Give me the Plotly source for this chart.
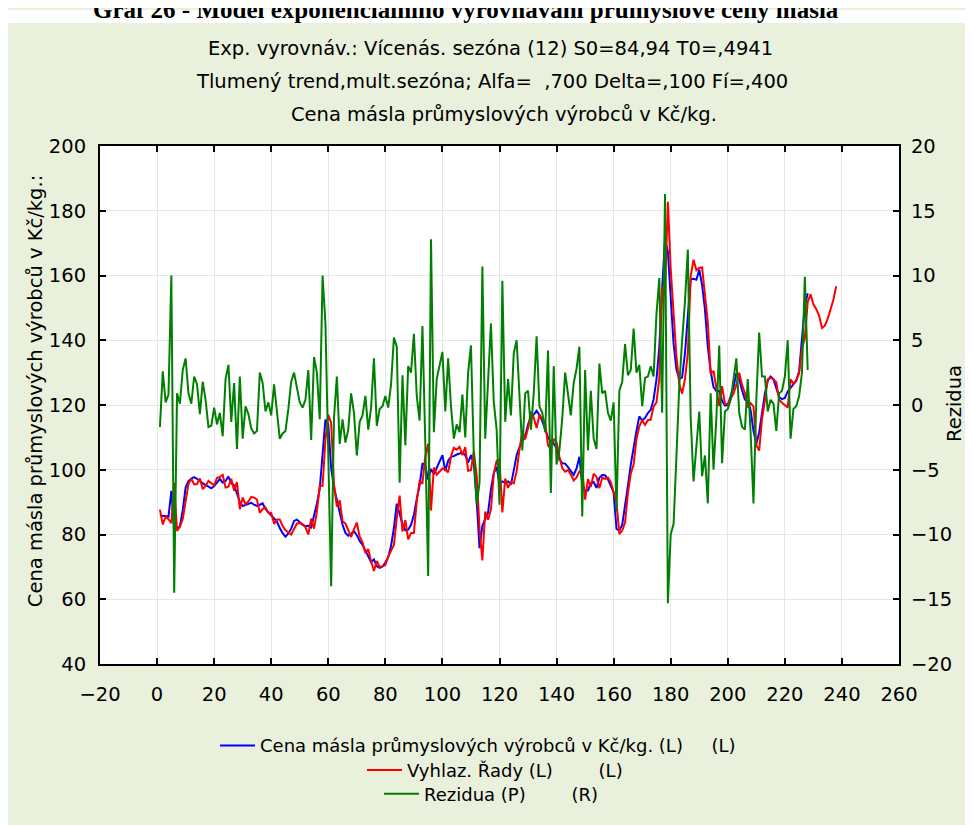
import plotly.graph_objects as go

# ---------------- data ----------------
actual = [86.0, 85.7, 85.7, 85.5, 93.5, 81.5, 82.0, 82.5, 87.5, 94.5,
          96.5, 97.3, 97.7, 97.2, 96.6, 95.8, 95.4, 94.8, 94.3, 95.0,
          96.0, 97.2, 96.0, 96.5, 97.9, 95.9, 95.2, 92.8, 90.0, 88.8,
          89.2, 89.5, 89.8, 89.2, 88.8, 89.2, 89.6, 87.8, 86.9, 85.9,
          84.9, 84.0, 82.0, 80.4, 79.3, 80.3, 81.8, 84.2, 84.6, 83.7,
          83.0, 82.6, 82.7, 82.2, 85.5, 89.5, 94.0, 105.0, 115.5, 114.0,
          100.5, 94.5, 90.8, 87.5, 83.0, 80.5, 79.6, 80.2, 81.0, 79.8,
          78.0, 76.8, 75.0, 73.6, 71.5, 72.3, 70.2, 69.7, 70.1, 71.3,
          73.0, 76.5, 82.0, 89.5, 86.0, 83.2, 81.3, 81.5, 83.0, 86.0,
          91.0, 95.2, 102.0, 101.2, 97.0, 100.2, 98.6, 100.5, 102.5, 104.5,
          99.6, 102.8, 104.0, 104.2, 104.7, 105.0, 105.3, 104.5, 102.2, 104.5,
          101.8, 90.5, 75.8, 82.7, 84.5, 86.8, 94.0, 99.0, 100.9, 95.4,
          96.4, 96.0, 96.4, 95.4, 99.8, 104.5, 107.0, 108.5, 110.3, 114.0,
          116.0, 117.0, 118.2, 116.9, 115.0, 112.5, 110.0, 108.6, 108.2, 106.5,
          103.2, 102.0, 101.9, 100.8, 99.5, 98.4, 100.4, 104.0, 95.5, 93.5,
          93.6, 95.8, 96.2, 94.4, 97.5, 98.4, 98.3, 97.0, 95.0, 93.0,
          81.7, 81.2, 83.0, 88.5, 95.0, 101.5, 107.5, 112.0, 116.5, 115.2,
          116.0, 117.5, 118.5, 121.7, 127.8, 137.9, 156.0, 171.0, 167.5, 152.0,
          139.0, 131.0, 128.0, 128.5, 136.0, 147.5, 158.8, 159.0, 158.7, 161.8,
          157.0, 149.5, 138.0, 130.5, 125.5, 124.3, 124.3, 121.3, 119.8, 120.0,
          122.5, 125.5, 129.8, 128.0, 124.5, 121.7, 121.2, 118.5, 112.0, 108.0,
          111.5, 118.0, 123.5, 127.5, 128.8, 128.0, 125.0, 122.5, 121.8, 122.2,
          124.2, 125.3, 126.3, 127.5, 130.5, 140.0, 150.5, 154.5]

smoothed = [87.7, 83.1, 85.5, 84.7, 83.5, 96.0, 81.1, 82.4, 84.8, 90.9,
            95.6, 97.2, 95.5, 95.6, 97.3, 94.0, 95.0, 96.5, 95.9, 95.2,
            97.5, 97.8, 98.4, 94.5, 94.8, 97.2, 93.5, 96.2, 87.8, 91.4,
            89.3, 90.2, 91.6, 91.4, 90.8, 86.7, 87.9, 88.3, 86.7, 86.7,
            83.3, 84.6, 84.6, 82.6, 81.3, 80.6, 80.0, 81.7, 83.4, 83.5,
            83.2, 82.2, 80.0, 84.9, 81.8, 87.0, 95.1, 95.0, 109.2, 117.0,
            114.5, 95.5, 88.6, 90.5, 84.1, 83.4, 81.5, 79.3, 81.6, 83.7,
            79.3, 77.6, 74.3, 75.5, 71.7, 68.7, 71.8, 70.0, 70.2, 70.6,
            73.2, 74.9, 76.8, 85.0, 92.0, 80.9, 84.4, 78.5, 80.5, 80.5,
            90.3, 96.4, 95.9, 104.2, 108.0, 87.4, 100.7, 98.5, 99.3, 100.4,
            100.1, 99.2, 104.1, 106.8, 106.2, 107.1, 104.5, 107.0, 99.7, 99.9,
            105.7, 98.2, 81.8, 72.0, 87.1, 84.6, 87.7, 98.8, 102.8, 103.1,
            86.8, 97.3, 94.4, 96.2, 95.8, 99.5, 106.3, 112.0, 109.4, 112.9,
            117.9, 116.1, 112.9, 117.0, 115.6, 114.6, 107.5, 106.5, 109.5, 108.5,
            104.0, 100.5, 99.4, 99.9, 98.5, 96.7, 97.6, 99.5, 100.0, 90.8,
            97.1, 94.7, 98.8, 97.8, 94.3, 97.5, 97.2, 97.6, 96.2, 92.8,
            89.9, 80.1, 81.2, 83.8, 92.7, 98.8, 101.6, 109.5, 113.4, 115.3,
            113.9, 115.3, 115.5, 119.5, 120.8, 128.1, 156.6, 154.7, 182.8, 162.0,
            148.2, 135.0, 126.5, 123.5, 128.0, 136.0, 159.8, 164.9, 161.6, 162.3,
            162.5, 153.4, 145.6, 129.6, 130.5, 125.3, 119.7, 125.8, 120.3, 120.3,
            122.1, 123.5, 126.2, 130.0, 126.2, 123.6, 119.2, 120.6, 119.6, 107.6,
            105.9, 115.8, 121.3, 128.0, 128.4, 127.9, 127.0, 121.6, 120.7, 120.0,
            119.2, 127.9, 126.6, 127.6, 129.8, 137.5, 140.6, 151.8, 154.2, 151.1,
            149.6, 147.6, 143.8, 144.5, 146.6, 149.5, 152.5, 156.7]

residuals = [-1.7, 2.6, 0.2, 0.8, 10.0, -14.5, 0.9, 0.1, 2.7, 3.6,
             0.9, 0.1, 2.2, 1.6, -0.7, 1.8, 0.4, -1.7, -1.6, -0.2,
             -1.5, -0.6, -2.4, 2.0, 3.1, -1.3, 1.7, -3.4, 2.2, -2.6,
             -0.1, -0.7, -1.8, -2.2, -2.0, 2.5, 1.7, -0.5, 0.2, -0.8,
             1.6, -0.6, -2.6, -2.2, -2.0, -0.3, 1.8, 2.5, 1.2, 0.2,
             -0.2, 0.4, 2.7, -2.7, 3.7, 2.5, -1.1, 10.0, 6.3, -3.0,
             -14.0, -1.0, 2.2, -3.0, -1.1, -2.9, -1.9, 0.9, -0.6, -3.9,
             -1.3, -0.8, 0.7, -1.9, -0.2, 3.6, -1.6, -0.3, -0.1, 0.7,
             -0.2, 1.6, 5.2, 4.5, -6.0, 2.3, -3.1, 3.0, 2.5, 5.5,
             0.7, -1.2, 6.1, -3.0, -13.2, 12.8, -2.1, 2.0, 3.2, 4.1,
             -0.5, 3.6, -0.1, -2.6, -1.5, -2.1, 0.8, -2.5, 2.5, 4.6,
             -3.9, -7.7, -6.0, 10.7, -2.6, 2.2, 6.3, 0.2, -1.9, -7.7,
             9.6, -1.3, 2.0, -0.8, 4.0, 5.0, 0.7, -3.5, 0.9, 1.1,
             -1.9, 0.9, 5.3, -0.1, -0.6, -2.1, 4.2, -6.8, 3.0, -4.6,
             -3.5, -1.0, 2.5, 0.9, -0.8, 1.7, 2.8, 4.5, -8.6, 2.7,
             -3.5, 1.1, -2.6, -3.4, 3.2, 0.9, 1.1, -0.6, -1.2, 0.2,
             -8.2, 1.1, 1.8, 4.7, 2.3, 2.7, 5.9, 2.5, 3.1, -0.1,
             2.1, 2.2, 3.0, 2.2, 7.0, 9.8, -0.6, 16.3, -15.3, -10.0,
             -9.2, -4.0, 1.5, 5.0, 8.0, 12.0, -1.0, -5.9, -2.9, -0.5,
             -5.5, -3.9, -7.6, 0.9, -5.0, -1.0, 4.6, -4.5, -0.5, -0.3,
             0.4, 2.0, 3.6, -0.6, -1.7, -1.9, 2.0, -2.1, -7.6, 0.4,
             5.6, 2.2, 2.2, -0.5, 0.4, 0.1, -2.0, 0.9, 1.1, 2.2,
             5.0, -2.6, -0.3, -0.1, 0.7, 2.5, 9.9, 2.7]

t_obs = list(range(1, len(actual) + 1))
t_all = list(range(1, len(smoothed) + 1))

x_ticks = list(range(-20, 261, 20))
y_left_ticks = list(range(40, 201, 20))
y_right_ticks = list(range(-20, 21, 5))

doc_title = "Graf 26 - Model exponenciálního vyrovnávání průmyslové ceny másla"
sub1 = "Exp. vyrovnáv.: Vícenás. sezóna (12) S0=84,94 T0=,4941"
sub2 = "Tlumený trend,mult.sezóna; Alfa=  ,700 Delta=,100 Fí=,400"
sub3 = "Cena másla průmyslových výrobců v Kč/kg."
left_title = "Cena másla průmyslových výrobců v Kč/kg.:"
right_title = "Rezidua"
NB = "\u00a0"
name1 = "Cena másla průmyslových výrobců v Kč/kg. (L)" + NB * 5 + "(L)"
name2 = "Vyhlaz. Řady (L)" + NB * 8 + "(L)"
name3 = "Rezidua (P)" + NB * 8 + "(R)"

# ---------------- geometry (page pixels; the page body has an 8px margin) ----
OFF = 8
W, H = 973 - OFF, 825 - OFF
L, R, T, B = 100, 899, 146, 672          # plot frame in page pixels
pw, ph = R - L, B - T


def px(xp):
    return (xp - L) / pw


def py(yp):
    return (B - yp) / ph


FONT = "DejaVu Sans, Verdana, sans-serif"
BG = "#e9f0dc"

fig = go.Figure()
fig.add_trace(go.Scatter(x=t_obs, y=actual, mode="lines", name=name1,
                         line=dict(color="#0000ff", width=2), legend="legend"))
fig.add_trace(go.Scatter(x=t_all, y=smoothed, mode="lines", name=name2,
                         line=dict(color="#ff0000", width=2), legend="legend2"))
fig.add_trace(go.Scatter(x=t_obs, y=residuals, mode="lines", name=name3,
                         line=dict(color="#008000", width=2), yaxis="y2",
                         legend="legend3"))

axis_common = dict(showline=True, linecolor="black", linewidth=2,
                   ticks="inside", ticklen=6, tickwidth=1.5, tickcolor="black",
                   tickfont=dict(family=FONT, size=19.5, color="black"),
                   zeroline=False)

leg_font = dict(family=FONT, size=18, color="black")

fig.update_layout(
    width=W, height=H, autosize=False,
    margin=dict(l=L - OFF, r=W + OFF - R, t=T - OFF, b=H + OFF - B, pad=0),
    paper_bgcolor=BG, plot_bgcolor="white",
    font=dict(family=FONT, color="black"),
    xaxis=dict(range=[-20, 260], tickvals=x_ticks, showgrid=True,
               gridcolor="#e6e6e6", gridwidth=1, mirror="ticks",
               ticklabelstandoff=12, **axis_common),
    yaxis=dict(range=[40, 200], tickvals=y_left_ticks, showgrid=True,
               gridcolor="#e6e6e6", gridwidth=1, ticklabelstandoff=8,
               **axis_common),
    yaxis2=dict(range=[-20, 20], tickvals=y_right_ticks, overlaying="y",
                side="right", showgrid=False, ticklabelstandoff=6,
                **axis_common),
    legend=dict(x=px(215), y=py(755), xanchor="left", yanchor="middle",
                bgcolor="rgba(0,0,0,0)", font=leg_font, itemwidth=35),
    legend2=dict(x=px(362), y=py(780), xanchor="left", yanchor="middle",
                 bgcolor="rgba(0,0,0,0)", font=leg_font, itemwidth=35),
    legend3=dict(x=px(379), y=py(804), xanchor="left", yanchor="middle",
                 bgcolor="rgba(0,0,0,0)", font=leg_font, itemwidth=35),
    showlegend=True,
)

# white document strip above the chart box (page y 8..21)
fig.add_shape(type="rect", xref="paper", yref="paper", layer="below",
              x0=px(0), x1=px(973), y0=py(21), y1=py(OFF),
              fillcolor="white", line=dict(width=0))

ann = [
    dict(text="<b>" + doc_title + "</b>", x=px(466), y=py(7), size=25,
         family="Liberation Serif, Times New Roman, serif"),
    dict(text=sub1, x=px(490), y=py(47), size=19.5, family=FONT),
    dict(text=sub2, x=px(492), y=py(80), size=19.5, family=FONT),
    dict(text=sub3, x=px(504), y=py(114), size=19.5, family=FONT),
]
for a in ann:
    fig.add_annotation(text=a["text"], x=a["x"], y=a["y"], xref="paper",
                       yref="paper", xanchor="center", yanchor="middle",
                       showarrow=False,
                       font=dict(family=a["family"], size=a["size"], color="black"))

fig.add_annotation(text=left_title, x=px(35), y=py(395), xref="paper",
                   yref="paper", xanchor="center", yanchor="middle",
                   textangle=-90, showarrow=False,
                   font=dict(family=FONT, size=19.5, color="black"))
fig.add_annotation(text=right_title, x=px(954), y=py(408), xref="paper",
                   yref="paper", xanchor="center", yanchor="middle",
                   textangle=-90, showarrow=False,
                   font=dict(family=FONT, size=19.5, color="black"))

fig.write_html("out.html")
